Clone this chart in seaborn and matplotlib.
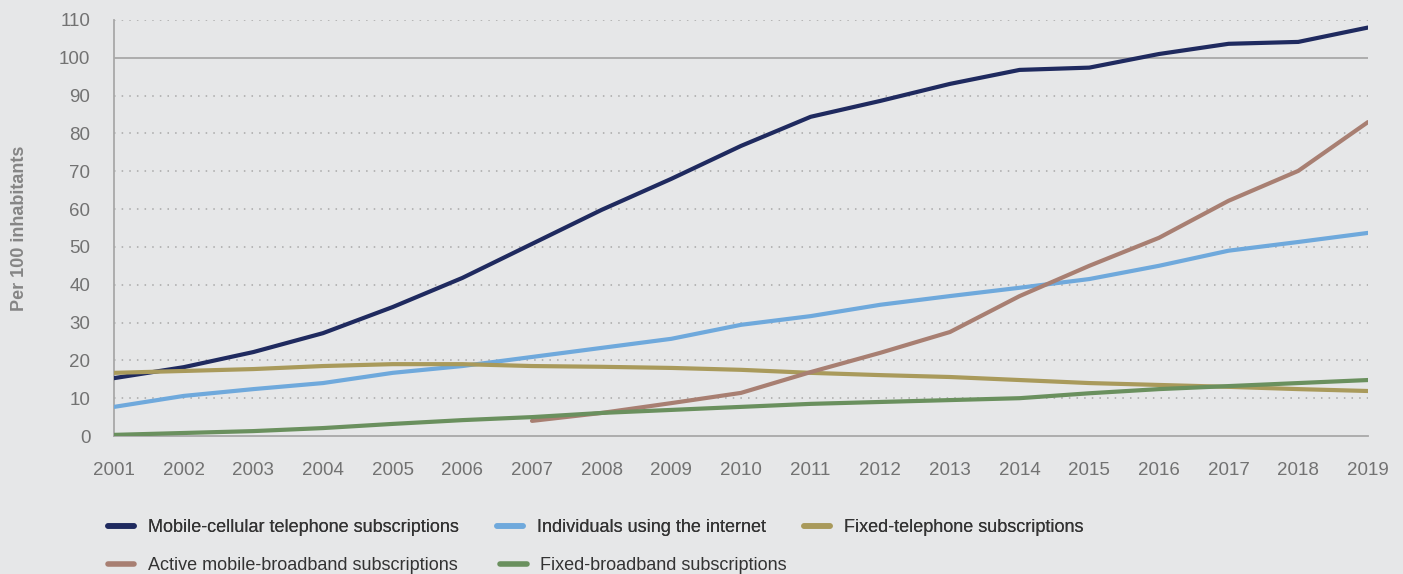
import numpy as np
import pandas as pd
import seaborn as sns
import matplotlib.pyplot as plt
from matplotlib.lines import Line2D

# Data (per 100 inhabitants)
years = list(range(2001, 2020))
mobile_cellular = [15.3, 18.2, 22.2, 27.2, 34.1, 41.8, 50.8, 59.8, 68.0, 76.7,
                   84.4, 88.6, 93.1, 96.8, 97.4, 101.0, 103.7, 104.2, 108.0]
internet_users = [7.7, 10.6, 12.4, 14.0, 16.7, 18.5, 20.9, 23.3, 25.7, 29.4,
                  31.7, 34.7, 37.0, 39.2, 41.5, 45.0, 49.0, 51.3, 53.7]
fixed_telephone = [16.7, 17.2, 17.7, 18.5, 19.0, 19.0, 18.5, 18.3, 18.0, 17.5,
                   16.7, 16.1, 15.6, 14.8, 14.0, 13.5, 13.0, 12.4, 11.9]
mobile_broadband = [np.nan] * 6 + [4.0, 6.1, 8.7, 11.4, 16.9, 22.0, 27.5, 37.0,
                                   45.0, 52.4, 62.2, 70.1, 83.0]
fixed_broadband = [0.3, 0.8, 1.3, 2.1, 3.2, 4.2, 5.0, 6.1, 6.9, 7.7,
                   8.5, 9.0, 9.5, 10.0, 11.3, 12.4, 13.2, 14.0, 14.8]

series_names = [
    "Mobile-cellular telephone subscriptions",
    "Individuals using the internet",
    "Fixed-telephone subscriptions",
    "Active mobile-broadband subscriptions",
    "Fixed-broadband subscriptions",
]
series_colors = ["#1f2a5f", "#6fa9dc", "#a99a5b", "#a87f72", "#6a905e"]

df = pd.DataFrame({
    "Year": years,
    series_names[0]: mobile_cellular,
    series_names[1]: internet_users,
    series_names[2]: fixed_telephone,
    series_names[3]: mobile_broadband,
    series_names[4]: fixed_broadband,
}).melt(id_vars="Year", var_name="Series", value_name="Value")

bg = "#e6e7e8"
sns.set_style("white", {"axes.facecolor": bg, "figure.facecolor": bg})
plt.rcParams["font.family"] = ["Liberation Sans", "DejaVu Sans"]

fig = plt.figure(figsize=(14.03, 5.74), dpi=100)
ax = fig.add_axes([0.0813, 0.2404, 0.8937, 0.7248])

# gridlines: dotted, except the solid 100 line
for v in range(10, 111, 10):
    if v == 100:
        ax.axhline(v, color="#a8a8a8", lw=1.3, zorder=1)
    else:
        ax.axhline(v, color="#a8a8a8", lw=1.1, ls=(0, (1, 4)), zorder=1)

sns.lineplot(data=df, x="Year", y="Value", hue="Series", hue_order=series_names,
             palette=series_colors, linewidth=3, ax=ax, legend=False, zorder=3)

ax.set_xlim(2001, 2019)
ax.set_ylim(0, 110)
ax.set_xticks(years)
ax.set_yticks(range(0, 111, 10))
ax.tick_params(axis="x", length=9, width=1.2, color="#a8a8a8", pad=10,
               labelsize=13.5, labelcolor="#727272")
ax.tick_params(axis="y", length=0, pad=17, labelsize=13.5, labelcolor="#727272")
for s in ["top", "right"]:
    ax.spines[s].set_visible(False)
for s in ["left", "bottom"]:
    ax.spines[s].set_color("#a8a8a8")
    ax.spines[s].set_linewidth(1.3)
ax.set_xlabel("")
ax.set_ylabel("Per 100 inhabitants", fontsize=13, fontweight="bold",
              color="#858585")
ax.yaxis.set_label_coords(-0.069, 0.5)

# legend: two rows, each its own legend so the columns sit as in the original
def legend_row(idx, y_px, colspace):
    handles = [Line2D([0], [0], color=series_colors[i], lw=4,
                      solid_capstyle="round") for i in idx]
    labels = [series_names[i] for i in idx]
    leg = fig.legend(handles, labels, ncol=len(idx), loc="center left",
                     bbox_to_anchor=(108 / 1403, 1 - y_px / 574), frameon=False,
                     fontsize=13, labelcolor="#333333", handlelength=1.45,
                     handletextpad=0.75, columnspacing=colspace,
                     borderpad=0, borderaxespad=0)
    return leg

fig.add_artist(legend_row([0, 1, 2], 528, 2.12))
legend_row([3, 4], 566, 2.38)

fig.savefig("out.png", dpi=100, facecolor=bg)
